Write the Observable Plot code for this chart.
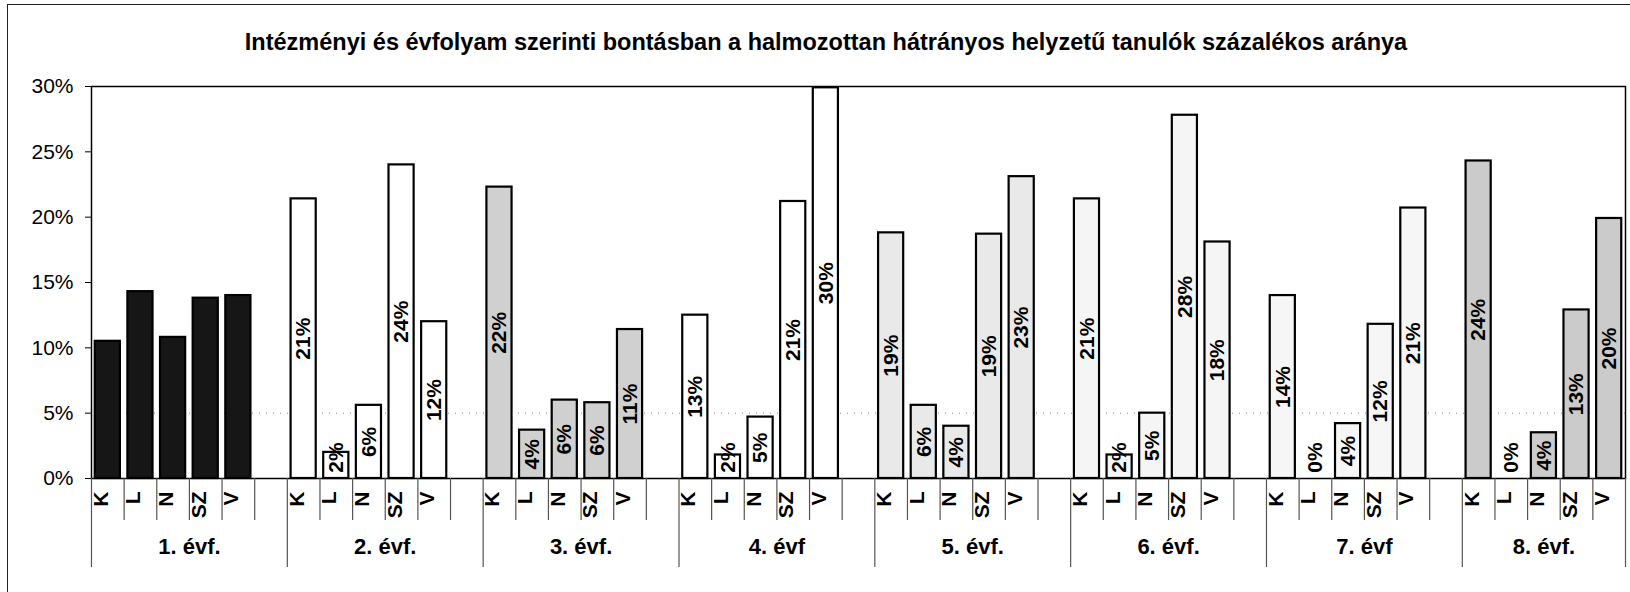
<!DOCTYPE html>
<html>
<head>
<meta charset="utf-8">
<script src="https://cdn.jsdelivr.net/npm/d3@7"></script>
<script src="https://cdn.jsdelivr.net/npm/@observablehq/plot@0.6"></script>
<style>
  html, body { margin: 0; padding: 0; background: #fff; overflow: hidden; }
  #page { position: relative; width: 1630px; height: 592px; overflow: hidden; font-family: "Liberation Sans", Arial, sans-serif; }
  #frame { position: absolute; left: 7px; top: 4px; width: 1700px; height: 700px; border-left: 1.5px solid #222; border-top: 1.5px solid #222; }
  #title { position: absolute; left: 0; top: 29px; width: 1652px; text-align: center; font-size: 23.5px; line-height: 26px; font-weight: bold; color: #000; }
  #chart { position: absolute; left: 0; top: 70px; }
</style>
</head>
<body>
<div id="page">
  <div id="frame"></div>
  <div id="title"></div>
  <div id="chart"></div>
</div>
<script>
// ---- data ----
const chartTitle = "Intézményi és évfolyam szerinti bontásban a halmozottan hátrányos helyzetű tanulók százalékos aránya";
const grades = ["1. évf.", "2. évf.", "3. évf.", "4. évf", "5. évf.", "6. évf.", "7. évf", "8. évf."];
const schools = ["K", "L", "N", "SZ", "V"];
const grade1 = [10.5, 14.3, 10.8, 13.8, 14.0];
const grade2 = [21.4, 2.0, 5.6, 24.0, 12.0];
const grade3 = [22.3, 3.7, 6.0, 5.8, 11.4];
const grade4 = [12.5, 1.8, 4.7, 21.2, 29.9];
const grade5 = [18.8, 5.6, 4.0, 18.7, 23.1];
const grade6 = [21.4, 1.8, 5.0, 27.8, 18.1];
const grade7 = [14.0, 0.0, 4.2, 11.8, 20.7];
const grade8 = [24.3, 0.0, 3.5, 12.9, 19.9];
const yTicks = [0, 5, 10, 15, 20, 25, 30];

// ---- styles ----
const gradeFills = ["#161616", "#ffffff", "#d0d0d0", "#ffffff", "#e9e9e9", "#f5f5f5", "#f6f6f6", "#cbcbcb"];
const W = 1630, H = 522, ML = 91, MR = 5, MT = 16, MB = 114;

document.getElementById("title").textContent = chartTitle;

const gradeValues = [grade1, grade2, grade3, grade4, grade5, grade6, grade7, grade8];
const slots = [];
grades.forEach((g, gi) => {
  schools.forEach((s, si) => slots.push({key: g + "|" + s, grade: g, gi, school: s, value: gradeValues[gi][si], gap: false}));
  if (gi < grades.length - 1) slots.push({key: g + "|gap", grade: g, gi, school: "", value: null, gap: true});
});
const domain = slots.map(d => d.key);
const bars = slots.filter(d => !d.gap);
const valueLabels = bars.filter(d => d.gi > 0);
const step = (W - ML - MR) / domain.length;
const plotH = H - MT - MB;

const shortSeps = slots.filter(d => d.school !== "K").map(d => d.key);
const longSeps = slots.filter(d => d.school === "K").map(d => d.key);
const lastKey = domain[domain.length - 1];
const gradesWithGap = grades.slice(0, -1);
const lastGrade = grades.slice(-1);

const sepStyle = {stroke: "#555", strokeWidth: 1.2};

const chart = Plot.plot({
  width: W, height: H,
  marginLeft: ML, marginRight: MR, marginTop: MT, marginBottom: MB,
  x: {type: "band", domain, paddingInner: 0.23, paddingOuter: 0.115, round: false, axis: null},
  y: {domain: [0, 30], axis: null},
  color: {type: "identity"},
  style: {fontFamily: "'Liberation Sans', Arial, sans-serif", background: "transparent", color: "#000", overflow: "visible"},
  marks: [
    Plot.ruleY([5], {stroke: "#888", strokeDasharray: "1,6"}),
    Plot.barY(bars, {x: "key", y: "value", fill: d => gradeFills[d.gi], stroke: "#000", strokeWidth: 2.2}),
    Plot.frame({stroke: "#000", strokeWidth: 1.5}),
    Plot.axisY(yTicks, {tickFormat: d => d + "%", tickSize: 6, tickPadding: 12, fontSize: 21, label: null, stroke: "#000"}),
    Plot.text(valueLabels, {
      x: "key", y: d => Math.max(d.value / 2, 1.6), text: d => Math.round(d.value) + "%",
      rotate: -90, fontSize: 21, fontWeight: "bold", fill: "#000"
    }),
    Plot.text(bars, {
      x: "key", text: "school", frameAnchor: "bottom", dy: 13, rotate: -90, textAnchor: "end",
      fontSize: 21, fontWeight: "bold", fill: "#000"
    }),
    Plot.ruleX(shortSeps, {dx: -step / 2, insetTop: plotH, insetBottom: -42, ...sepStyle}),
    Plot.ruleX(longSeps, {dx: -step / 2, insetTop: plotH, insetBottom: -89, ...sepStyle}),
    Plot.ruleX([lastKey], {dx: step / 2, insetTop: plotH, insetBottom: -89, ...sepStyle}),
    Plot.text(gradesWithGap, {x: d => d + "|N", text: d => d, dx: step / 2, frameAnchor: "bottom", dy: 75, fontSize: 22, fontWeight: "bold", fill: "#000"}),
    Plot.text(lastGrade, {x: d => d + "|N", text: d => d, frameAnchor: "bottom", dy: 75, fontSize: 22, fontWeight: "bold", fill: "#000"})
  ]
});
document.getElementById("chart").appendChild(chart);
</script>
</body>
</html>
